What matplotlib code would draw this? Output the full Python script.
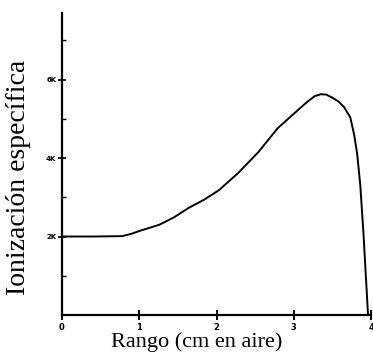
import numpy as np
from matplotlib import pyplot as plt

### data
rango = [0.0, 0.4, 0.78, 0.9, 1.0, 1.26, 1.45, 1.64, 1.84, 2.03, 2.28, 2.54, 2.79, 3.05, 3.17, 3.27, 3.35, 3.42, 3.5, 3.58, 3.65, 3.73, 3.78, 3.82, 3.86, 3.9, 3.93, 3.96]
ioniz = [2000, 2000, 2010, 2070, 2140, 2300, 2490, 2730, 2940, 3180, 3620, 4150, 4760, 5220, 5430, 5580, 5630, 5620, 5540, 5440, 5300, 5040, 4600, 4100, 3300, 2100, 1050, 0]

xticks = [0, 1, 2, 3, 4]
xlabels = ["0", "1", "2", "3", "4"]
yticks = [2000, 4000, 6000]
ylabels = ["2K", "4K", "6K"]
yminor = [1000, 3000, 5000, 7000]
###

plt.rcParams['font.family'] = ['Liberation Serif', 'DejaVu Serif']

fig = plt.figure(figsize=(3.73, 3.62), dpi=100)
ax = fig.add_axes([0.166, 0.130, 0.829, 0.834])

ax.plot(rango, ioniz, color="black", lw=1.4)

ax.set_xlim(0, 4)
ax.set_ylim(0, 7700)

ax.spines["top"].set_visible(False)
ax.spines["right"].set_visible(False)
ax.spines["left"].set_linewidth(1.6)
ax.spines["bottom"].set_linewidth(1.6)

ax.set_xticks(xticks)
ax.set_xticklabels(xlabels, fontsize=6, fontweight="bold", family="DejaVu Sans")
ax.set_yticks(yticks)
ax.set_yticklabels(ylabels, fontsize=5, fontweight="bold", family="DejaVu Sans")
ax.set_yticks(yminor, minor=True)
ax.tick_params(axis="x", direction="inout", length=7, width=1.4, pad=2)
ax.tick_params(axis="y", direction="inout", length=6, width=1.2, pad=1)
ax.tick_params(axis="y", which="minor", direction="in", length=3, width=1.0)

ax.set_xlabel("Rango (cm en aire)", fontsize=16)
ax.set_ylabel("Ionización específica", fontsize=20)
ax.xaxis.set_label_coords(0.435, -0.058)
ax.yaxis.set_label_coords(-0.142, 0.457)
ax.yaxis.label.set_va("center")

fig.savefig("out.png", dpi=100)
